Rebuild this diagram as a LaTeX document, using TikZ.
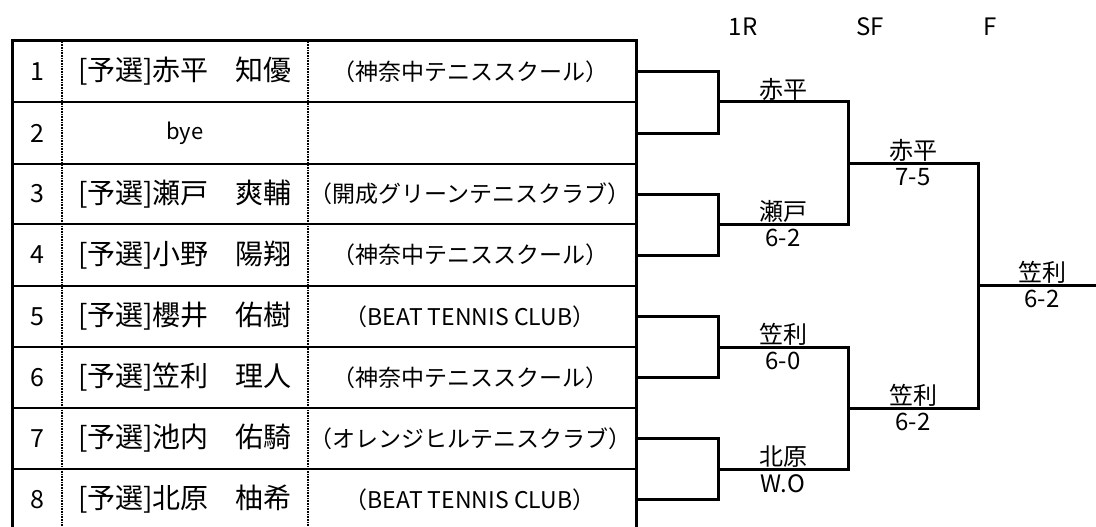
\documentclass[tikz,border=0pt]{standalone}
\usepackage{fontspec}
\setmainfont{Noto Sans CJK JP}
\newcommand\entrant[2]{\hbox to 214pt{[予選]#1\hfill#2}}
\begin{document}
\begin{tikzpicture}[x=1pt,y=-1pt,
  frame/.style={line width=3pt},
  rowline/.style={line width=2.5pt},
  sepline/.style={line width=1.5pt, dash pattern=on 0.8pt off 0.8pt},
  tree/.style={line width=3pt, line join=miter},
  num/.style={font=\fontsize{25}{27}\selectfont, inner sep=0pt},
  pname/.style={font=\fontsize{28}{30}\selectfont, inner sep=0pt},
  club/.style={font=\fontsize{23}{25}\selectfont, inner sep=0pt},
  win/.style={font=\fontsize{24}{26}\selectfont, anchor=south, inner sep=0pt},
  score/.style={font=\fontsize{24}{26}\selectfont, anchor=north, inner sep=0pt},
  rnd/.style={font=\fontsize{24}{26}\selectfont, inner sep=0pt}]
\useasboundingbox (0,0) rectangle (1096,527);

% table
\draw[frame] (12,530) -- (12,41) -- (636,41) -- (636,530);
\draw[rowline] (12,102) -- (636,102);
\draw[rowline] (12,164) -- (636,164);
\draw[rowline] (12,224) -- (636,224);
\draw[rowline] (12,286) -- (636,286);
\draw[rowline] (12,347) -- (636,347);
\draw[rowline] (12,408) -- (636,408);
\draw[rowline] (12,469) -- (636,469);
\draw[sepline] (62,42) -- (62,530);
\draw[sepline] (308,42) -- (308,530);

\node[num] (n1) at (37,71.5) {1};
\node[num] (n2) at (37,133) {2};
\node[num] (n3) at (37,194) {3};
\node[num] (n4) at (37,255) {4};
\node[num] (n5) at (37,316.5) {5};
\node[num] (n6) at (37,377.5) {6};
\node[num] (n7) at (37,438.5) {7};
\node[num] (n8) at (37,499.5) {8};

\node[pname] (p1) at (185,71.5) {\entrant{赤平}{知優}};
\node[club, font=\fontsize{22}{24}\selectfont] (p2) at (185,133) {bye};
\node[pname] (p3) at (185,194) {\entrant{瀬戸}{爽輔}};
\node[pname] (p4) at (185,255) {\entrant{小野}{陽翔}};
\node[pname] (p5) at (185,316.5) {\entrant{櫻井}{佑樹}};
\node[pname] (p6) at (185,377.5) {\entrant{笠利}{理人}};
\node[pname] (p7) at (185,438.5) {\entrant{池内}{佑騎}};
\node[pname] (p8) at (185,499.5) {\entrant{北原}{柚希}};

\node[club] (c1) at (470,71.5) {（神奈中テニススクール）};
\node[club] (c3) at (470,194) {（開成グリーンテニスクラブ）};
\node[club] (c4) at (470,255) {（神奈中テニススクール）};
\node[club] (c5) at (470,316.5) {（BEAT TENNIS CLUB）};
\node[club] (c6) at (470,377.5) {（神奈中テニススクール）};
\node[club] (c7) at (470,438.5) {（オレンジヒルテニスクラブ）};
\node[club] (c8) at (470,499.5) {（BEAT TENNIS CLUB）};

% bracket
\coordinate (e1) at (636,71.5);
\coordinate (e2) at (636,133);
\coordinate (e3) at (636,194);
\coordinate (e4) at (636,255);
\coordinate (e5) at (636,316.5);
\coordinate (e6) at (636,377.5);
\coordinate (e7) at (636,438.5);
\coordinate (e8) at (636,499.5);
\coordinate (r1) at (718,102);
\coordinate (r2) at (718,224.5);
\coordinate (r3) at (718,347);
\coordinate (r4) at (718,469);
\coordinate (s1) at (848,163);
\coordinate (s2) at (848,408);
\coordinate (f) at (978,285.5);
\coordinate (champ) at (1100,285.5);

\draw[tree] (e1) -| (r1) |- (e2);
\draw[tree] (e3) -| (r2) |- (e4);
\draw[tree] (e5) -| (r3) |- (e6);
\draw[tree] (e7) -| (r4) |- (e8);
\draw[tree] (r1) -| (s1) |- (r2);
\draw[tree] (r3) -| (s2) |- (r4);
\draw[tree] (s1) -| (f) |- (s2);
\draw[tree] (f) -- (champ);

\node[rnd] (h1) at (743,27) {1R};
\node[rnd] (h2) at (870,27) {SF};
\node[rnd] (h3) at (990,27) {F};

\node[win] (w1) at (783,101) {赤平};
\node[win] (w2) at (783,223) {瀬戸};
\node[score] (sc2) at (783,229) {6-2};
\node[win] (w3) at (783,346) {笠利};
\node[score] (sc3) at (783,352) {6-0};
\node[win] (w4) at (783,468) {北原};
\node[score] (sc4) at (783,474) {W.O};
\node[win] (w5) at (913,162) {赤平};
\node[score] (sc5) at (913,168) {7-5};
\node[win] (w6) at (913,407) {笠利};
\node[score] (sc6) at (913,413) {6-2};
\node[win] (w7) at (1042,284) {笠利};
\node[score] (sc7) at (1042,290) {6-2};
\end{tikzpicture}
\end{document}
